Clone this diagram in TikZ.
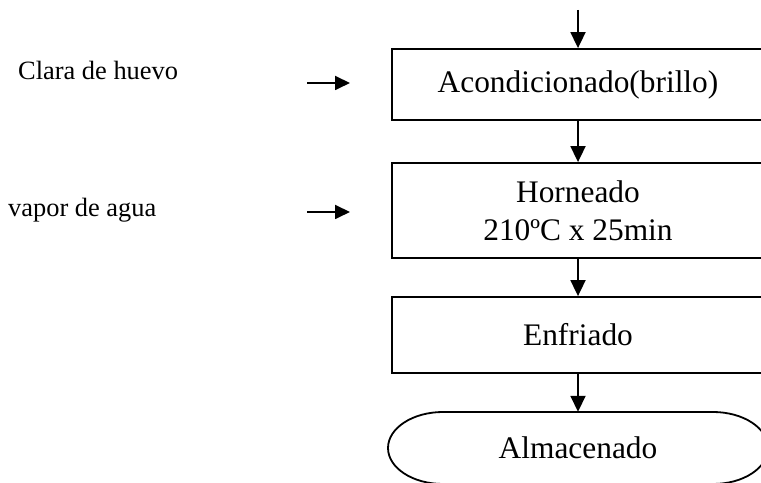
\documentclass[tikz,border=0pt]{standalone}
\usepackage{fontspec}
\setmainfont{Liberation Serif}
\usetikzlibrary{arrows.meta}
\begin{document}
\begin{tikzpicture}[x=1bp,y=1bp,
  boxstyle/.style={draw, line width=1.8bp, inner sep=0pt, minimum width=372bp, align=center,
     font=\fontsize{31.5}{38}\selectfont},
  sidetext/.style={inner sep=0pt, font=\fontsize{26.5}{32}\selectfont},
  flow/.style={line width=1.8bp, -{Triangle[length=16bp,width=15bp]}},
  feed/.style={line width=1.8bp, -{Triangle[length=15bp,width=14bp]}}]
\useasboundingbox (0,0) rectangle (761,483);
\clip (0,0) rectangle (761,483);
\coordinate (start) at (578,473);
\node[boxstyle, minimum height=71bp] (b1) at (578,398.5) {Acondicionado(brillo)};
\node[boxstyle, minimum height=95bp] (b2) at (578,272.5) {Horneado\\210ºC x 25min};
\node[boxstyle, minimum height=76bp] (b3) at (578,148) {Enfriado};
\draw[line width=1.8bp] (443,71) -- (713,71) arc[start angle=90, end angle=-90, x radius=55, y radius=36]
   -- (443,-1) arc[start angle=270, end angle=90, x radius=55, y radius=36] -- cycle;
\node[inner sep=0pt, minimum width=380bp, minimum height=72bp, font=\fontsize{31.5}{38}\selectfont] (term) at (578,35) {Almacenado};
\draw[flow] (start) -- (b1.north);
\draw[flow] (b1.south) -- (b2.north);
\draw[flow] (b2.south) -- (b3.north);
\draw[flow] (b3.south) -- (term.north);
\node[sidetext, anchor=base west] (clara) at (18,403) {Clara de huevo};
\node[sidetext, anchor=base west] (vapor) at (8,266) {vapor de agua};
\coordinate (a1s) at (307,400);
\coordinate (a1e) at (350,400);
\coordinate (a2s) at (307,271);
\coordinate (a2e) at (350,271);
\draw[feed] (a1s) -- (a1e);
\draw[feed] (a2s) -- (a2e);
\end{tikzpicture}
\end{document}
